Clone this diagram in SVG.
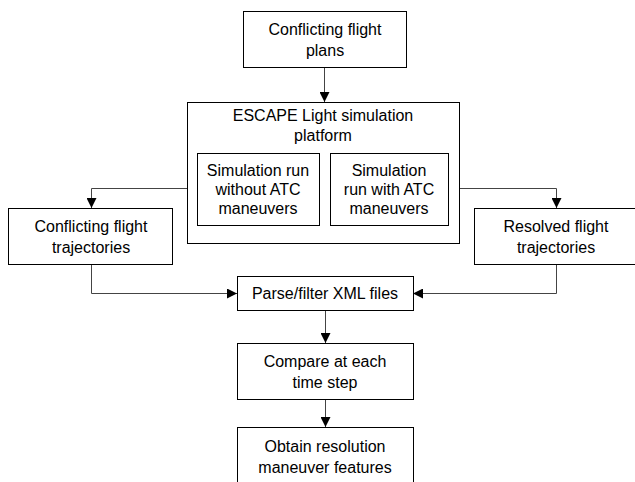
<svg xmlns="http://www.w3.org/2000/svg" width="635" height="482" viewBox="0 0 635 482">
<style>
.box{fill:#fff;stroke:#000;stroke-width:1}
.t{font-family:"Liberation Sans",Arial,sans-serif;font-size:16px;fill:#000;text-anchor:middle;dominant-baseline:central}
.c{fill:none;stroke:#444;stroke-width:1}
</style>
<defs>
<marker id="ah" markerUnits="userSpaceOnUse" markerWidth="10" markerHeight="10" viewBox="0 0 10 10" refX="10" refY="5" orient="auto">
<path d="M0,0 L10,5 L0,10 Z" fill="#000"/>
</marker>
</defs>
<rect width="635" height="482" fill="#fff"/>
<g id="connectors">
<path class="c" d="M324.5,67 V102" marker-end="url(#ah)"/>
<path class="c" d="M197,188.5 H91.5 V208" marker-end="url(#ah)"/>
<path class="c" d="M448,188.5 H556.5 V208" marker-end="url(#ah)"/>
<path class="c" d="M91.5,264 V293.5 H237" marker-end="url(#ah)"/>
<path class="c" d="M556.5,264 V293.5 H413" marker-end="url(#ah)"/>
<path class="c" d="M325.5,310 V343" marker-end="url(#ah)"/>
<path class="c" d="M325.5,399 V427" marker-end="url(#ah)"/>
</g>
<g id="plans">
<rect class="box" x="243.5" y="11.5" width="163" height="56"/>
<text class="t" x="325" y="29">Conflicting flight</text>
<text class="t" x="325" y="50">plans</text>
</g>
<g id="platform">
<rect class="box" x="187.5" y="102.5" width="272" height="141"/>
<text class="t" x="323" y="115">ESCAPE Light simulation</text>
<text class="t" x="323" y="135">platform</text>
</g>
<g id="runWithout">
<rect class="box" x="197.5" y="153.5" width="122" height="72"/>
<text class="t" x="258" y="170">Simulation run</text>
<text class="t" x="258" y="189">without ATC</text>
<text class="t" x="258" y="208">maneuvers</text>
</g>
<g id="runWith">
<rect class="box" x="330.5" y="153.5" width="118" height="72"/>
<text class="t" x="389" y="170">Simulation</text>
<text class="t" x="389" y="189">run with ATC</text>
<text class="t" x="389" y="208">maneuvers</text>
</g>
<g id="conflicting">
<rect class="box" x="8.5" y="208.5" width="164" height="56"/>
<text class="t" x="91" y="226">Conflicting flight</text>
<text class="t" x="91" y="247">trajectories</text>
</g>
<g id="resolved">
<rect class="box" x="474.5" y="208.5" width="166" height="56"/>
<text class="t" x="556" y="226">Resolved flight</text>
<text class="t" x="556" y="247">trajectories</text>
</g>
<g id="parse">
<rect class="box" x="237.5" y="276.5" width="176" height="34"/>
<text class="t" x="325" y="293">Parse/filter XML files</text>
</g>
<g id="compare">
<rect class="box" x="237.5" y="343.5" width="176" height="56"/>
<text class="t" x="325" y="361">Compare at each</text>
<text class="t" x="325" y="382">time step</text>
</g>
<g id="obtain">
<rect class="box" x="237.5" y="427.5" width="176" height="60"/>
<text class="t" x="325" y="446">Obtain resolution</text>
<text class="t" x="325" y="467">maneuver features</text>
</g>
</svg>
